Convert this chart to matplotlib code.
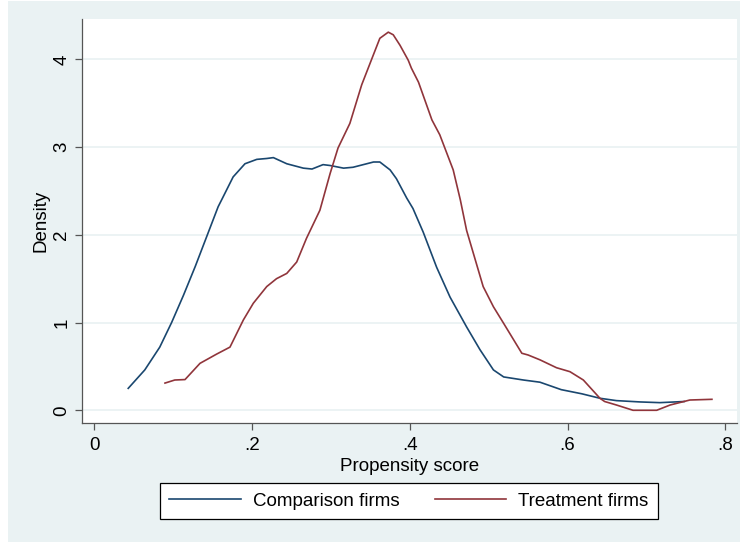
import matplotlib
matplotlib.use("Agg")
import matplotlib.pyplot as plt
from matplotlib.patches import Rectangle

plt.rcParams['font.family'] = ['Liberation Sans', 'DejaVu Sans']

# Comparison firms (kernel density)
comp_x = [0.043, 0.064, 0.083, 0.098, 0.113, 0.128, 0.1425, 0.157, 0.1615, 0.176,
          0.191, 0.206, 0.2186, 0.227, 0.244, 0.265, 0.276, 0.290, 0.299, 0.316,
          0.328, 0.354, 0.362, 0.375, 0.383, 0.396, 0.404, 0.417, 0.434, 0.451,
          0.472, 0.489, 0.506, 0.519, 0.544, 0.565, 0.592, 0.618, 0.641, 0.662,
          0.692, 0.717, 0.748]
comp_y = [0.25, 0.46, 0.72, 1.00, 1.31, 1.64, 1.98, 2.32, 2.40, 2.66,
          2.81, 2.86, 2.87, 2.88, 2.81, 2.76, 2.75, 2.80, 2.79, 2.76,
          2.77, 2.83, 2.83, 2.74, 2.64, 2.42, 2.30, 2.03, 1.63, 1.29,
          0.95, 0.69, 0.46, 0.38, 0.345, 0.32, 0.235, 0.188, 0.137, 0.11,
          0.095, 0.087, 0.10]

# Treatment firms
treat_x = [0.0896, 0.102, 0.115, 0.134, 0.155, 0.172, 0.189, 0.2016, 0.2186, 0.231,
           0.244, 0.2566, 0.269, 0.286, 0.299, 0.309, 0.324, 0.339, 0.352, 0.362,
           0.3727, 0.379, 0.3876, 0.398, 0.402, 0.411, 0.428, 0.438, 0.455, 0.464,
           0.472, 0.493, 0.506, 0.519, 0.542, 0.550, 0.565, 0.586, 0.603, 0.620,
           0.641, 0.647, 0.662, 0.683, 0.713, 0.730, 0.755, 0.783]
treat_y = [0.31, 0.345, 0.35, 0.535, 0.64, 0.72, 1.03, 1.22, 1.41, 1.50,
           1.56, 1.69, 1.96, 2.28, 2.70, 2.99, 3.27, 3.71, 4.01, 4.24,
           4.31, 4.28, 4.16, 3.99, 3.90, 3.74, 3.31, 3.14, 2.74, 2.40,
           2.05, 1.41, 1.18, 0.99, 0.65, 0.63, 0.575, 0.485, 0.44, 0.345,
           0.137, 0.10, 0.06, 0.0, 0.0, 0.06, 0.117, 0.125]

x_ticks = [0, 0.2, 0.4, 0.6, 0.8]
x_labels = ['0', '.2', '.4', '.6', '.8']
y_ticks = [0, 1, 2, 3, 4]
y_labels = ['0', '1', '2', '3', '4']

W, H = 740, 542
fig = plt.figure(figsize=(W / 100, H / 100), dpi=100, facecolor='white')
bg = '#EAF2F3'
fig.patches.append(Rectangle((8 / W, 0), 1 - 8 / W, 1 - 1 / H, transform=fig.transFigure,
                             facecolor=bg, edgecolor='none', zorder=-5))

ax = fig.add_axes([82 / W, (H - 423) / H, (737 - 82) / W, (423 - 19) / H])
ax.set_facecolor('white')

for yt in y_ticks:
    ax.axhline(yt, color=bg, lw=1.3, zorder=1)

ax.plot(comp_x, comp_y, color='#1A476F', lw=1.2, label='Comparison firms', zorder=3)
ax.plot(treat_x, treat_y, color='#90353B', lw=1.2, label='Treatment firms', zorder=3)

ax.set_xlim(-0.0156, 0.8148)
ax.set_ylim(-0.145, 4.46)
ax.set_xticks(x_ticks)
ax.set_xticklabels(x_labels)
ax.set_yticks(y_ticks)
ax.set_yticklabels(y_labels, rotation=90, va='center')

for s in ['top', 'right']:
    ax.spines[s].set_visible(False)
for s in ['left', 'bottom']:
    ax.spines[s].set_color('#555555')
    ax.spines[s].set_linewidth(0.9)

ax.tick_params(axis='both', length=5, width=0.9, color='#555555', labelsize=13.5, pad=5)
ax.tick_params(axis='y', pad=3.5)
ax.set_xlabel('Propensity score', fontsize=13.5, labelpad=3)
ax.set_ylabel('Density', fontsize=13.5, labelpad=3)

handles, labels = ax.get_legend_handles_labels()
leg = fig.legend(handles, labels, loc='center', bbox_to_anchor=(409 / W, 1 - 501 / H),
                 ncol=2, fontsize=13.5, frameon=True, fancybox=False, handlelength=3.8,
                 handletextpad=0.65, columnspacing=1.9, borderpad=0.5, borderaxespad=0,
                 framealpha=1)
leg.get_frame().set_edgecolor('black')
leg.get_frame().set_linewidth(0.9)
leg.get_frame().set_facecolor('white')

fig.savefig('out.png', dpi=100, facecolor='white')
